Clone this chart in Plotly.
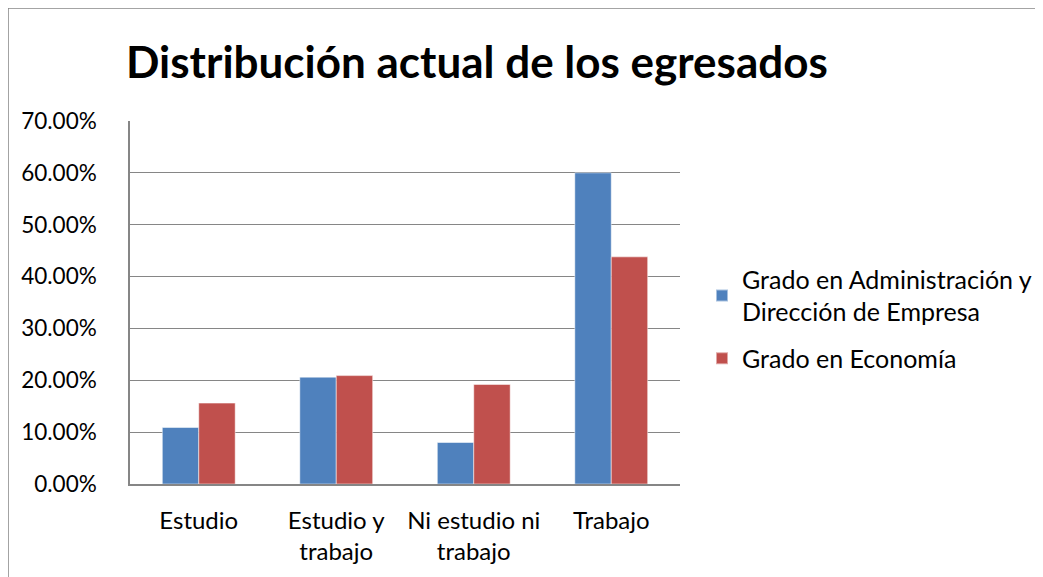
import plotly.graph_objects as go

categories = ["Estudio", "Estudio y<br>trabajo", "Ni estudio ni<br>trabajo", "Trabajo"]
ade_values = [0.109, 0.206, 0.080, 0.600]
eco_values = [0.156, 0.209, 0.192, 0.438]
series_names = ["Grado en Administración y<br>Dirección de Empresa", "Grado en Economía"]
y_ticks = [0, 0.1, 0.2, 0.3, 0.4, 0.5, 0.6, 0.7]
y_tick_labels = ["0.00%", "10.00%", "20.00%", "30.00%", "40.00%", "50.00%", "60.00%", "70.00%"]
title_text = "Distribución actual de los egresados"

FONT = "Lato"
GRID = "#868686"

fig = go.Figure()
fig.add_trace(go.Bar(x=categories, y=ade_values, name=series_names[0], legendgroup="a",
                     marker=dict(color="#4F81BD", line=dict(color="rgba(255,255,255,0.5)", width=1))))
fig.add_trace(go.Bar(x=categories, y=eco_values, name=series_names[1], legendgroup="b",
                     marker=dict(color="#C0504D", line=dict(color="rgba(255,255,255,0.5)", width=1))))

fig.update_layout(
    width=1043, height=577,
    margin=dict(l=122, r=371, t=113, b=101, pad=0),
    paper_bgcolor="white", plot_bgcolor="white",
    barmode="group", bargap=0.47, bargroupgap=0,
    font=dict(family=FONT, size=23, color="black"),
    showlegend=True,
    legend=dict(x=1.04, y=0.627, xanchor="left", yanchor="top",
                font=dict(family=FONT, size=25, color="black"),
                itemsizing="constant", tracegroupgap=11, bgcolor="rgba(0,0,0,0)"),
    annotations=[dict(text="<b>" + title_text + "</b>", xref="paper", yref="paper",
                      x=0.63, y=(484 - 61) / 363, xanchor="center", yanchor="middle",
                      showarrow=False, font=dict(family=FONT, size=44, color="black"))],
    shapes=[dict(type="rect", xref="paper", yref="paper", x0=-0.2218, x1=1.8, y0=-0.5, y1=1.3113,
                 line=dict(color=GRID, width=1.5), fillcolor="rgba(0,0,0,0)", layer="below")],
)
fig.update_yaxes(range=[0, 0.7], tickvals=y_ticks, ticktext=y_tick_labels,
                 tickfont=dict(family=FONT, size=22.5, color="black"),
                 showgrid=True, gridcolor=GRID, gridwidth=1.3,
                 showline=True, linecolor=GRID, linewidth=1.5,
                 ticks="", ticklabelstandoff=27, zeroline=False, fixedrange=True)
fig.update_xaxes(showline=True, linecolor=GRID, linewidth=2, ticks="",
                 tickfont=dict(family=FONT, size=24, color="black"),
                 ticklabelstandoff=14, fixedrange=True)

fig.write_html("out.html")
